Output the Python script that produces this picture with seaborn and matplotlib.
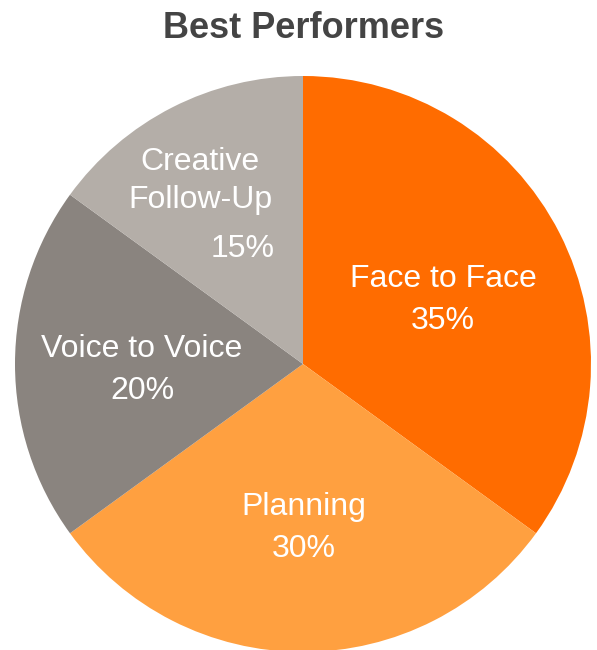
import matplotlib
matplotlib.use("Agg")
import matplotlib.pyplot as plt
import seaborn as sns

categories = ["Face to Face", "Planning", "Voice to Voice", "Creative\nFollow-Up"]
values = [35, 30, 20, 15]
colors = ["#FF6C00", "#FFA040", "#8A847F", "#B4AEA8"]

sns.set_theme(style="white")
plt.rcParams['font.family'] = ['Liberation Sans', 'DejaVu Sans']

fig = plt.figure(figsize=(5.97, 6.5), dpi=100)
R = 288
cx, cy = 303, 650 - 364
ax = fig.add_axes([(cx - R) / 597, (cy - R) / 650, 2 * R / 597, 2 * R / 650])
wedges, _ = ax.pie(values, colors=sns.color_palette(colors), startangle=90, counterclock=False,
                   radius=1, wedgeprops=dict(linewidth=0))
ax.set_xlim(-1, 1)
ax.set_ylim(-1, 1)
ax.set_aspect('auto')
ax.axis('off')

def px(x, y):
    return ((x - cx) / R, ((650 - y) - cy) / R)

FS = 23
label_pos = [(443, 300), (304, 528), (142, 370), (200, 181)]
for (name, v, (x, y)) in zip(categories, values, label_pos):
    X, Y = px(x, y)
    if name.startswith("Creative"):
        ax.text(X, Y, name, ha='center', va='center', color='white', fontsize=FS, linespacing=1.34)
        X2, Y2 = px(243, 249)
        ax.text(X2, Y2, f"{v}%", ha='center', va='center', color='white', fontsize=FS)
    else:
        ax.text(X, Y, f"{name}\n{v}%", ha='center', va='center', color='white', fontsize=FS, linespacing=1.5)

fig.text(304 / 597, 1 - 28 / 650, "Best Performers", ha='center', va='center',
         fontsize=26, fontweight='bold', color='#444444')

fig.savefig("out.png", dpi=100)
